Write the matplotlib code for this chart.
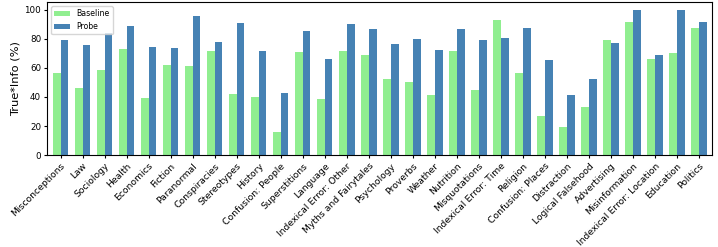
import matplotlib.pyplot as plt
import numpy as np

categories = ["Misconceptions", "Law", "Sociology", "Health", "Economics", "Fiction",
              "Paranormal", "Conspiracies", "Stereotypes", "History", "Confusion: People",
              "Superstitions", "Language", "Indexical Error: Other", "Myths and Fairytales",
              "Psychology", "Proverbs", "Weather", "Nutrition", "Misquotations",
              "Indexical Error: Time", "Religion", "Confusion: Places", "Distraction",
              "Logical Falsehood", "Advertising", "Misinformation",
              "Indexical Error: Location", "Education", "Politics"]

baseline = [56.2, 45.9, 58.6, 72.8, 39.5, 61.8, 61.2, 71.4, 42.2, 39.7,
            16.2, 70.8, 38.6, 71.6, 68.9, 52.5, 50.4, 41.3, 71.6, 44.7,
            92.7, 56.8, 26.7, 19.6, 32.9, 79.2, 91.3, 66.4, 69.9, 87.2]

probe = [79.2, 75.8, 84.2, 89.0, 74.4, 73.5, 95.4, 77.6, 90.6, 71.4,
         42.7, 85.6, 66.4, 89.9, 86.5, 76.7, 80.1, 72.6, 87.0, 79.4,
         80.8, 87.7, 65.7, 41.1, 52.7, 77.1, 100.0, 69.2, 100.0, 91.3]

x = np.arange(len(categories))
w = 0.35

fig, ax = plt.subplots(figsize=(7.18, 2.47), dpi=100)
ax.bar(x - w / 2, baseline, w, color='lightgreen', label='Baseline')
ax.bar(x + w / 2, probe, w, color='steelblue', label='Probe')

ax.set_ylabel("True*Info (%)", fontsize=8.2, labelpad=3)
ax.set_xticks(x)
ax.set_xticklabels(categories, rotation=45, ha='right', rotation_mode='anchor', fontsize=6.7)
ax.tick_params(axis='y', labelsize=6.3, length=2.5, pad=2)
ax.tick_params(axis='x', length=2.5, pad=2)
ax.set_xlim(-0.6, len(categories) - 0.4)
ax.legend(loc='upper left', fontsize=5.6)

fig.subplots_adjust(left=0.066, right=0.992, top=0.99, bottom=0.372)
fig.savefig("out.png")
